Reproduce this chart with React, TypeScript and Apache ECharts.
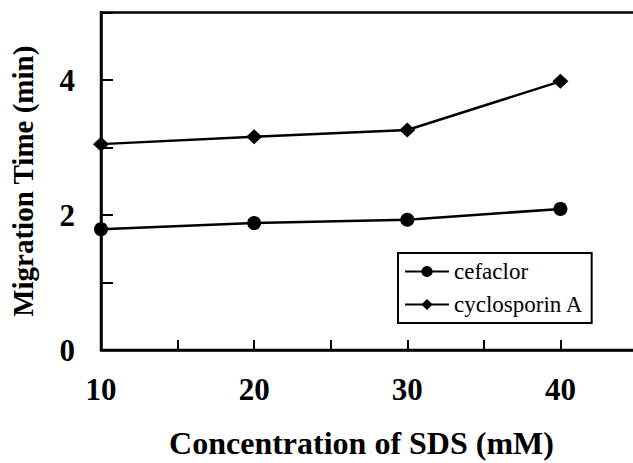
import React, { useEffect, useRef } from "react";
import * as echarts from "echarts";

const sdsConc = [10, 20, 30, 40];
const cefaclor = [1.79, 1.88, 1.93, 2.09];
const cyclosporinA = [3.05, 3.16, 3.26, 3.98];
const xLabels = [10, 20, 30, 40];
const yLabels = [0, 2, 4];

const FONT = "'Liberation Serif', 'Times New Roman', serif";

export default function App() {
  const ref = useRef<HTMLDivElement>(null);
  useEffect(() => {
    if (!ref.current) return;
    const chart = echarts.init(ref.current, null, { renderer: "svg" });
    chart.setOption({
      animation: false,
      backgroundColor: "#ffffff",
      grid: {
        left: 101,
        top: 12.5,
        width: 536,
        height: 337.5,
        outerBoundsMode: "none",
        containLabel: false,
        show: true,
        borderColor: "#000",
        borderWidth: 2.5,
      },
      legend: {
        orient: "vertical",
        left: 398,
        top: 253,
        borderColor: "#000",
        borderWidth: 2,
        padding: [7, 8, 7, 6],
        itemGap: 10,
        itemWidth: 44,
        itemHeight: 14,
        textStyle: { fontFamily: FONT, fontSize: 23, color: "#000" },
        data: ["cefaclor", "cyclosporin A"],
      },
      xAxis: {
        type: "value",
        min: 10,
        max: 45,
        interval: 5,
        name: "Concentration of SDS (mM)",
        nameLocation: "middle",
        nameGap: 77,
        nameTextStyle: {
          fontFamily: FONT,
          fontSize: 32,
          fontWeight: "bold",
          color: "#000",
          padding: [0, 15, 0, 0],
        },
        axisLine: { lineStyle: { color: "#000", width: 2.5 } },
        axisTick: { inside: true, length: 10, lineStyle: { color: "#000", width: 2 } },
        axisLabel: {
          margin: 24,
          fontFamily: FONT,
          fontSize: 31,
          fontWeight: "bold",
          color: "#000",
          formatter: (v: number) => (xLabels.includes(v) ? String(v) : ""),
        },
        splitLine: { show: false },
      },
      yAxis: {
        type: "value",
        min: 0,
        max: 5,
        interval: 1,
        name: "Migration Time (min)",
        nameLocation: "middle",
        nameGap: 64,
        nameTextStyle: {
          fontFamily: FONT,
          fontSize: 29,
          fontWeight: "bold",
          color: "#000",
        },
        axisLine: { show: true, lineStyle: { color: "#000", width: 2.5 } },
        axisTick: { show: true, inside: true, length: 12, lineStyle: { color: "#000", width: 2 } },
        axisLabel: {
          margin: 26,
          fontFamily: FONT,
          fontSize: 31,
          fontWeight: "bold",
          color: "#000",
          formatter: (v: number) => (yLabels.includes(v) ? String(v) : ""),
        },
        splitLine: { show: false },
      },
      series: [
        {
          name: "cefaclor",
          type: "line",
          data: sdsConc.map((x, i) => [x, cefaclor[i]]),
          symbol: "circle",
          symbolSize: 14,
          itemStyle: { color: "#000" },
          lineStyle: { color: "#000", width: 2.5 },
        },
        {
          name: "cyclosporin A",
          type: "line",
          data: sdsConc.map((x, i) => [x, cyclosporinA[i]]),
          symbol: "diamond",
          symbolSize: [16, 15],
          itemStyle: { color: "#000" },
          lineStyle: { color: "#000", width: 2.5 },
        },
      ],
    });
    return () => chart.dispose();
  }, []);
  return (
    <div
      ref={ref}
      style={{ position: "fixed", left: 0, top: 0, width: 633, height: 463, background: "#fff" }}
    />
  );
}
